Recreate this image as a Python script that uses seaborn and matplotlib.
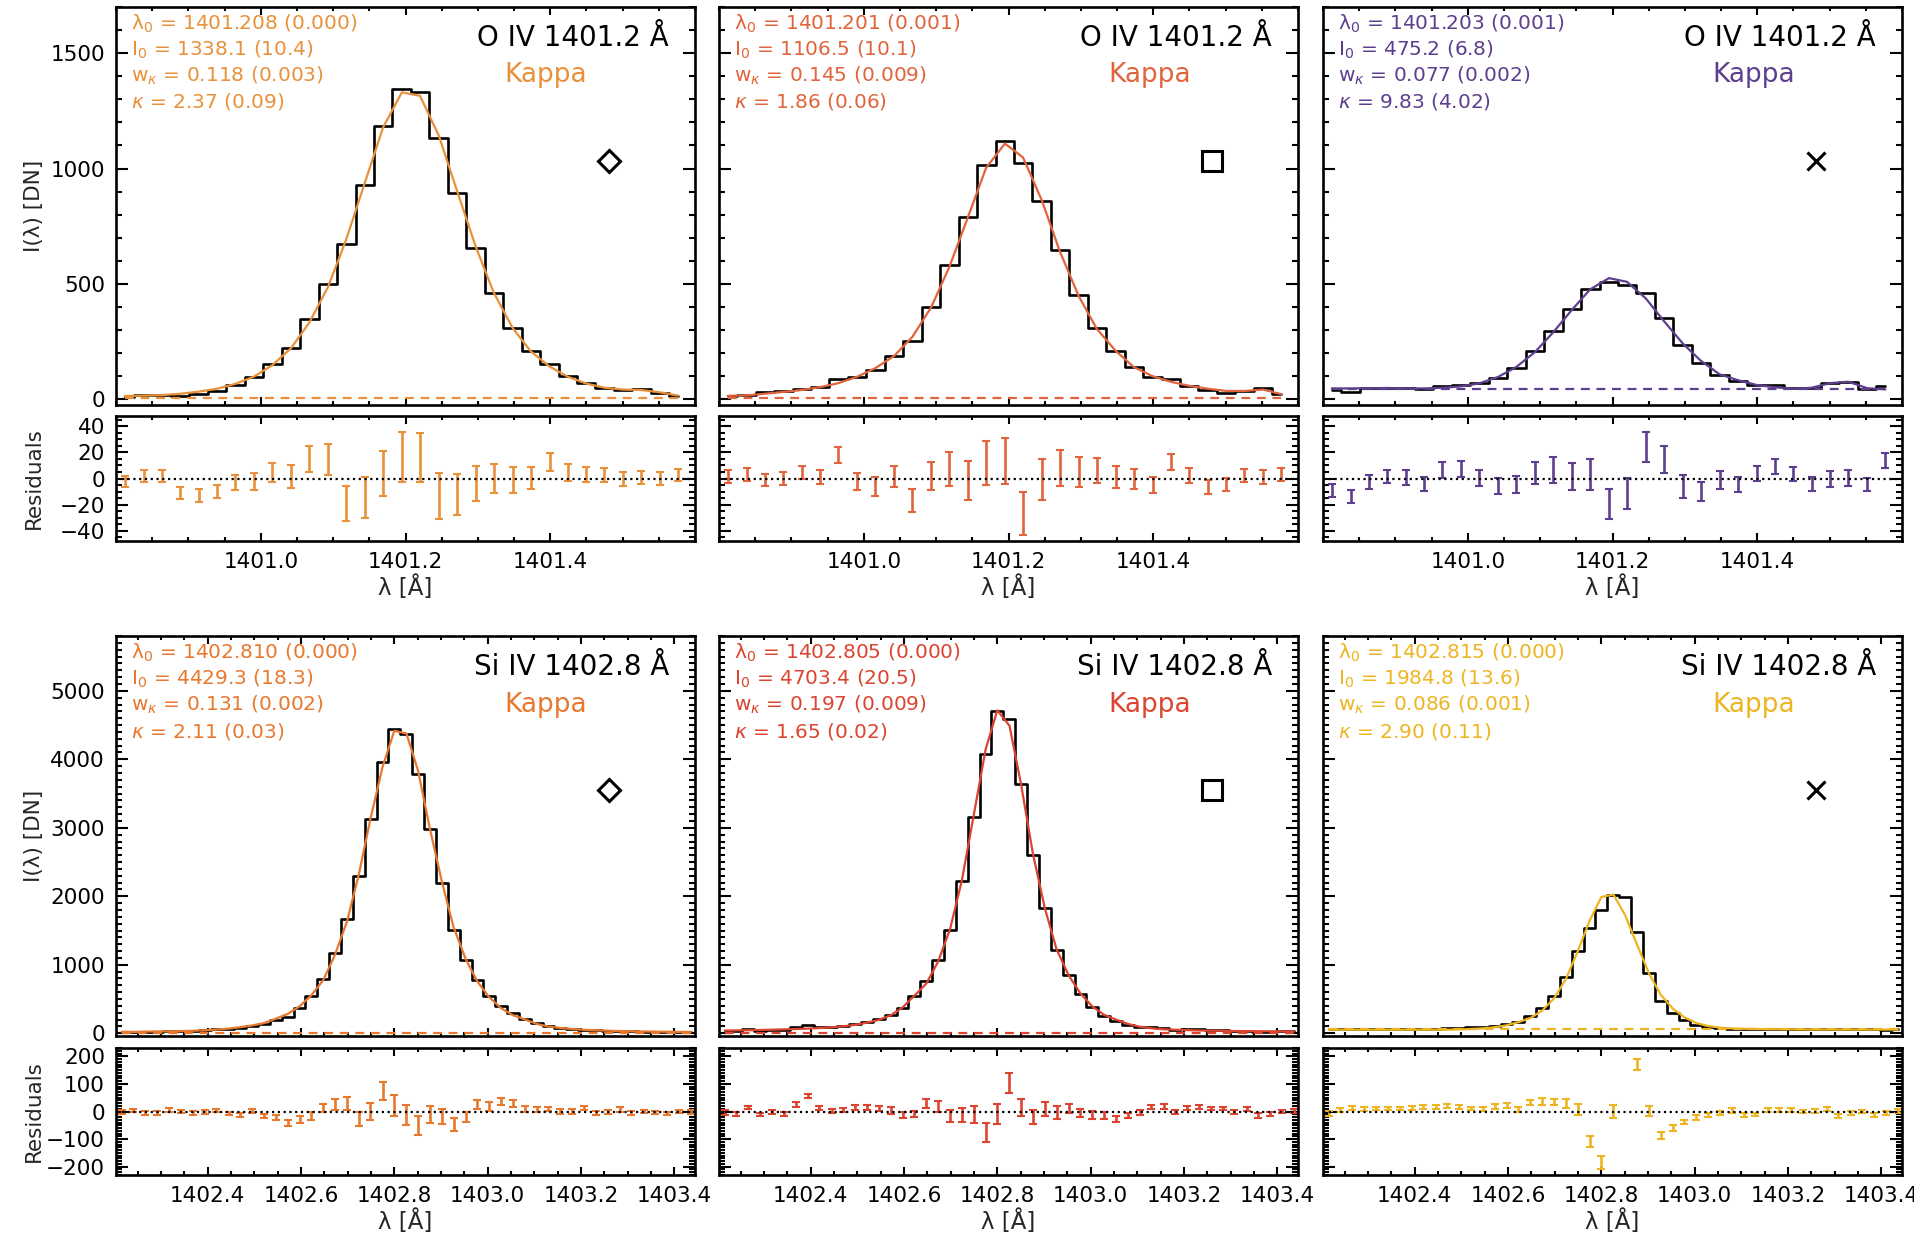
import matplotlib
matplotlib.use("Agg")
import matplotlib.pyplot as plt
import seaborn as sns
from matplotlib.ticker import MultipleLocator, FixedLocator, FormatStrFormatter

sns.set_theme(style="ticks")
plt.rcParams["font.family"] = ["DejaVu Sans"]
plt.rcParams["mathtext.fontset"] = "dejavusans"

# ---------------- data ----------------
WL_OIV = [1400.812, 1400.838, 1400.863, 1400.889, 1400.914, 1400.940, 1400.965, 1400.991,
          1401.016, 1401.042, 1401.067, 1401.093, 1401.118, 1401.144, 1401.169, 1401.195,
          1401.220, 1401.246, 1401.271, 1401.297, 1401.322, 1401.348, 1401.373, 1401.399,
          1401.424, 1401.450, 1401.475, 1401.501, 1401.526, 1401.552, 1401.577]
WL_SIIV = [1402.216, 1402.241, 1402.267, 1402.292, 1402.318, 1402.343, 1402.368, 1402.394,
           1402.419, 1402.445, 1402.470, 1402.495, 1402.521, 1402.546, 1402.572, 1402.597,
           1402.622, 1402.648, 1402.673, 1402.699, 1402.724, 1402.749, 1402.775, 1402.800,
           1402.826, 1402.851, 1402.876, 1402.902, 1402.927, 1402.953, 1402.978, 1403.003,
           1403.029, 1403.054, 1403.080, 1403.105, 1403.130, 1403.156, 1403.181, 1403.207,
           1403.232, 1403.257, 1403.283, 1403.308, 1403.334, 1403.359, 1403.384, 1403.410,
           1403.435]
XTICKS_OIV = [1401.0, 1401.2, 1401.4]
XTICKS_SIIV = [1402.4, 1402.6, 1402.8, 1403.0, 1403.2, 1403.4]

# O IV, diamond
OIV_D_I = [12, 18, 18, 14, 22, 36, 64, 96, 154, 224, 346, 500, 674, 927, 1183, 1345, 1330, 1131,
           893, 657, 461, 307, 211, 154, 103, 69, 50, 40, 46, 29, 14]
OIV_D_FIT = [14, 16, 18, 24, 33, 46, 67, 99, 148, 222, 332, 487, 692, 940, 1178, 1330, 1315, 1143,
             905, 662, 462, 309, 208, 142, 98, 68, 50, 42, 40, 30, 16]
OIV_D_RES = [-2, 2, 2, -11, -13, -10, -3, -2.3, 4.4, 1.5, 15.3, 14.8, -19, -14.5, 4, 16.4, 16,
             -13.5, -12, -4, 0, -1.3, 0.3, 12.7, 4.7, 2.8, 2.6, -0.5, 0.8, 0, 2.8]
OIV_D_ERR = [4.3, 4.8, 4.8, 4.5, 4.7, 5.3, 5.8, 6.5, 7.4, 9, 10, 12, 13.4, 15.8, 17.5, 19, 18.7,
             17.4, 15.8, 13.4, 11, 10, 8.4, 7, 6.5, 5.8, 5.2, 5.2, 5.2, 4.8, 4.5]
# O IV, square
OIV_S_I = [16, 19, 33, 36, 44, 54, 90, 97, 126, 187, 254, 401, 580, 790, 1016, 1121, 1023, 861,
           647, 451, 311, 211, 140, 97, 90, 59, 40, 29, 36, 47, 21]
OIV_S_FIT = [15, 17, 24, 32, 40, 53, 70, 98, 135, 188, 270, 398, 572, 790, 1003, 1108, 1048, 862,
             640, 447, 305, 210, 140, 100, 76, 58, 46, 36, 36, 42, 22]
OIV_S_RES = [1.4, 3.1, -1.3, 0, 4.7, 1, 18, -2.6, -6, 1.6, -17, 2, 7.3, -1.3, 11.7, 13.5, -26.5,
             -0.8, 8, 4.9, 6, 1.3, -0.5, -5, 12.7, 2.3, -6.5, -4.4, 2.3, 1, 2.9]
OIV_S_ERR = [4.8, 4.7, 4.5, 5.2, 4.9, 5.2, 6.4, 6.5, 7.1, 8.2, 9.1, 11, 12.7, 15, 16.8, 17.5, 16.5,
             15.6, 13.9, 11.7, 9.7, 8.4, 7.5, 6.2, 6.5, 5.6, 5.3, 4.9, 5.2, 5.2, 4.8]
# O IV, cross
OIV_X_I = [40, 33, 47, 50, 47, 43, 57, 64, 71, 93, 136, 210, 296, 390, 479, 507, 497, 461, 354,
           236, 157, 107, 79, 64, 61, 47, 47, 71, 76, 43, 57]
OIV_X_FIT = [47, 47, 48, 49, 47, 47, 50, 56, 69, 97, 140, 205, 290, 388, 476, 525, 509, 437, 339,
             242, 167, 108, 83, 62, 52, 45, 50, 70, 76, 48, 43]
OIV_X_RES = [-9.2, -14, -2.4, 1.6, 0.8, -4.5, 6.6, 7.4, 0.5, -5.8, -4.7, 4.2, 6.3, 1.6, 2.9, -19.5,
             -11.6, 24.2, 14.5, -5.8, -10, -1.3, -4.7, 3.7, 9.5, 3.2, -4.2, -0.3, 0.3, -4.5, 14]
OIV_X_ERR = [5, 5, 5.3, 5.3, 5.7, 5.3, 6.2, 6.2, 5.9, 6.2, 6.8, 8.6, 9.9, 10.5, 11.8, 11.8, 11.8,
             11.6, 10.3, 8.8, 7.6, 7, 5.9, 5.9, 5.8, 5.5, 5.3, 5.9, 5.9, 4.9, 5.7]

# Si IV, diamond
SIIV_D_I = [20, 22, 25, 25, 30, 30, 35, 45, 55, 65, 80, 100, 132, 195, 244, 366, 537, 790, 1171,
            1668, 2293, 3132, 3966, 4439, 4366, 3780, 2985, 2195, 1502, 1063, 780, 546, 400, 293,
            210, 146, 105, 80, 62, 50, 42, 36, 32, 28, 25, 22, 20, 20, 18]
SIIV_D_FIT = [22, 20, 24, 27, 28, 31, 36, 44, 54, 68, 88, 113, 148, 212, 283, 393, 551, 778, 1147,
              1638, 2319, 3132, 3892, 4417, 4378, 3831, 2995, 2212, 1549, 1083, 755, 528, 365,
              264, 201, 137, 97, 78, 62, 50, 44, 38, 32, 30, 26, 24, 22, 20, 19]
SIIV_D_RES = [-2, 3, -5, -5, 5, 0, -5, -2, 3, -7, -12, 3, -17, -20, -40, -29, -15, 12, 24, 30,
              -26, 0, 74, 22, -12, -51, -10, -17, -47, -20, 25, 18, 35, 29, 9, 9, 10, 0, 0, 12,
              -5, -1, 8, -5, 0, -3, -7, 0, -2]
SIIV_D_ERR = [7, 6, 6.5, 6, 6, 6, 6.5, 6, 6.5, 7, 7.5, 7, 8, 9, 11, 12, 14, 15, 20, 23, 26, 31,
              34, 37, 36, 34, 31, 27, 22, 19, 17, 15, 13, 11, 10, 9, 8, 7.5, 7.5, 8, 7, 7, 8, 6,
              6, 6, 6.5, 7, 8]
# Si IV, square
SIIV_S_I = [36, 34, 59, 37, 51, 49, 86, 125, 90, 90, 109, 138, 171, 205, 268, 366, 537, 756,
            1063, 1512, 2219, 3156, 4073, 4707, 4595, 3644, 2610, 1829, 1220, 854, 576, 380, 254,
            174, 122, 91, 89, 77, 50, 59, 58, 50, 48, 30, 40, 15, 20, 29, 29]
SIIV_S_FIT = [40, 42, 45, 48, 52, 57, 62, 68, 76, 88, 102, 122, 155, 195, 264, 377, 546, 726,
              1044, 1527, 2231, 3167, 4148, 4716, 4491, 3630, 2630, 1820, 1224, 843, 582, 394,
              268, 200, 136, 95, 72, 58, 52, 46, 41, 39, 37, 33, 31, 30, 29, 28, 27]
SIIV_S_RES = [-4, -8, 14, -11, -1, -8, 24, 57, 14, 2, 7, 16, 16, 10, 4, -11, -9, 30, 19, -15,
              -12, -11, -75, -9, 104, 14, -20, 9, -4, 11, -6, -14, -14, -26, -14, -4, 17, 19, -2,
              13, 17, 11, 11, -3, 9, -15, -9, 1, 2]
SIIV_S_ERR = [8, 7.5, 5.4, 7, 6.5, 7.5, 9, 7.5, 7.5, 7, 7, 9, 9, 9.7, 12, 11, 12, 16, 19, 22, 26,
              31, 34, 36.5, 36, 32, 27, 24, 24, 18, 15, 14.5, 12, 11, 10, 8, 8, 8.6, 8, 6.5, 8,
              7, 7, 7, 6, 8, 6.5, 5.4, 6.5]
# Si IV, cross
SIIV_X_I = [55, 62, 65, 62, 64, 64, 65, 66, 67, 68, 70, 74, 85, 98, 107, 137, 171, 254, 366, 546,
            820, 1195, 1537, 1805, 2024, 1990, 1473, 878, 478, 302, 195, 122, 88, 73, 68, 65, 64,
            62, 62, 60, 60, 58, 58, 57, 56, 57, 55, 54, 55]
SIIV_X_FIT = [52, 52, 52, 52, 52, 52, 52, 52, 52, 52, 52, 56, 62, 72, 88, 116, 162, 222, 329, 511,
              791, 1188, 1645, 1989, 2025, 1725, 1303, 876, 564, 361, 233, 150, 105, 82, 70, 66,
              63, 60, 58, 57, 56, 55, 55, 54, 54, 54, 54, 54, 54]
SIIV_X_RES = [-8, 7, 14, 9, 12, 12, 12, 14, 16, 17, 21, 16, 11, 9, 19, 21, 9, 32, 37, 35, 29, 7,
              -108, -184, -1, 265, 170, 2, -86, -59, -38, -22, -13, -5, 3, -14, -12, 7, 7, 7, 1,
              3, 9, -17, -6, -1, -14, -6, 3]
SIIV_X_ERR = [9, 7, 7, 6, 6, 6, 6, 7, 7, 8, 8, 8, 7, 8, 9, 9, 9, 10, 12, 12, 17, 20, 21, 24, 23,
              25, 19, 19, 13, 11.6, 9, 9, 8, 8, 8, 7, 6, 7, 7, 7, 6, 7, 7, 7, 7, 6, 7, 7, 7]

BASELINES = [5, 5, 43, 10, 10, 55]
LINE_TITLES = ["O IV 1401.2 Å", "Si IV 1402.8 Å"]
PARAMS = [
    ["λ$_0$ = 1401.208 (0.000)", "I$_0$ = 1338.1 (10.4)", r"w$_\kappa$ = 0.118 (0.003)", r"$\kappa$ = 2.37 (0.09)"],
    ["λ$_0$ = 1401.201 (0.001)", "I$_0$ = 1106.5 (10.1)", r"w$_\kappa$ = 0.145 (0.009)", r"$\kappa$ = 1.86 (0.06)"],
    ["λ$_0$ = 1401.203 (0.001)", "I$_0$ = 475.2 (6.8)", r"w$_\kappa$ = 0.077 (0.002)", r"$\kappa$ = 9.83 (4.02)"],
    ["λ$_0$ = 1402.810 (0.000)", "I$_0$ = 4429.3 (18.3)", r"w$_\kappa$ = 0.131 (0.002)", r"$\kappa$ = 2.11 (0.03)"],
    ["λ$_0$ = 1402.805 (0.000)", "I$_0$ = 4703.4 (20.5)", r"w$_\kappa$ = 0.197 (0.009)", r"$\kappa$ = 1.65 (0.02)"],
    ["λ$_0$ = 1402.815 (0.000)", "I$_0$ = 1984.8 (13.6)", r"w$_\kappa$ = 0.086 (0.001)", r"$\kappa$ = 2.90 (0.11)"],
]
COLORS = ["#E8913A", "#E0643C", "#5E3F8E", "#E8782E", "#DC4430", "#EDB521"]
MARKERS = ["D", "s", "x"]

# ---------------- layout ----------------
fig = plt.figure(figsize=(19.15, 12.44), dpi=100)
COL_L = [0.0606, 0.3755, 0.6909]
COL_W = 0.3023
ROWS = [dict(sb=0.6744, sh=0.3200, rb=0.5651, rh=0.1005, xlim=(1400.80, 1401.60),
             ylim=(-25, 1700), ymaj=500, ymin=100, rlim=(-48, 48), rmaj=20, rmin=5,
             wl=WL_OIV, xt=XTICKS_OIV),
        dict(sb=0.1672, sh=0.3215, rb=0.0555, rh=0.1020, xlim=(1402.204, 1403.444),
             ylim=(-40, 5800), ymaj=1000, ymin=100, rlim=(-230, 230), rmaj=100, rmin=10,
             wl=WL_SIIV, xt=XTICKS_SIIV)]
SERIES = [
    (OIV_D_I, OIV_D_FIT, OIV_D_RES, OIV_D_ERR),
    (OIV_S_I, OIV_S_FIT, OIV_S_RES, OIV_S_ERR),
    (OIV_X_I, OIV_X_FIT, OIV_X_RES, OIV_X_ERR),
    (SIIV_D_I, SIIV_D_FIT, SIIV_D_RES, SIIV_D_ERR),
    (SIIV_S_I, SIIV_S_FIT, SIIV_S_RES, SIIV_S_ERR),
    (SIIV_X_I, SIIV_X_FIT, SIIV_X_RES, SIIV_X_ERR),
]
FS_TICK = 15.5
FS_PAR = 14.5


def style_axes(ax, xlen):
    ax.tick_params(which="both", direction="in", top=True, right=True,
                   width=1.5, colors="black", labelsize=FS_TICK, pad=8)
    ax.tick_params(axis="y", which="major", length=8.5)
    ax.tick_params(axis="y", which="minor", length=4)
    ax.tick_params(axis="x", which="major", length=xlen)
    ax.tick_params(axis="x", which="minor", length=xlen / 2)
    for s in ax.spines.values():
        s.set_linewidth(1.9)
        s.set_color("black")


for r, row in enumerate(ROWS):
    wl = row["wl"]
    for c in range(3):
        k = r * 3 + c
        col = COLORS[k]
        inten, fit, res, err = SERIES[k]
        ax_r = fig.add_axes([COL_L[c], row["rb"], COL_W, row["rh"]])
        ax_s = fig.add_axes([COL_L[c], row["sb"], COL_W, row["sh"]])

        # spectrum
        sns.lineplot(x=wl, y=inten, ax=ax_s, color="black", lw=1.9,
                     drawstyle="steps-mid", estimator=None, sort=False)
        sns.lineplot(x=wl, y=fit, ax=ax_s, color=col, lw=1.6, estimator=None, sort=False)
        ax_s.hlines(BASELINES[k], wl[0], wl[-1], colors=col, linestyles=(0, (4, 3)), lw=1.6)
        ax_s.set_xlim(*row["xlim"])
        ax_s.set_ylim(*row["ylim"])
        ax_s.xaxis.set_major_locator(FixedLocator(row["xt"]))
        ax_s.xaxis.set_minor_locator(MultipleLocator(0.05))
        ax_s.yaxis.set_major_locator(MultipleLocator(row["ymaj"]))
        ax_s.yaxis.set_minor_locator(MultipleLocator(row["ymin"]))
        ax_s.yaxis.set_major_formatter(FormatStrFormatter("%d"))
        style_axes(ax_s, 6)
        ax_s.set_xticklabels([])
        ax_s.set_xlabel("")

        for j, line in enumerate(PARAMS[k]):
            ax_s.text(0.025, 0.958 - 0.0655 * j, line, color=col, fontsize=FS_PAR,
                      transform=ax_s.transAxes, ha="left", va="center")
        ax_s.text(0.955, 0.922, LINE_TITLES[r], color="black", fontsize=20,
                  transform=ax_s.transAxes, ha="right", va="center")
        ax_s.text(0.743, 0.828, "Kappa", color=col, fontsize=19,
                  transform=ax_s.transAxes, ha="center", va="center")
        mk = MARKERS[c]
        ax_s.plot([0.852], [0.614], marker=mk, transform=ax_s.transAxes,
                  ms={"D": 11, "s": 14, "x": 13}[mk], mfc="none", mec="black",
                  mew=2.2, ls="none")

        # residuals
        ax_r.errorbar(wl, res, yerr=err, fmt="none", ecolor=col, elinewidth=1.9,
                      capsize=2.6, capthick=1.5)
        ax_r.axhline(0, color="black", ls=(0, (1, 1.6)), lw=1.6)
        ax_r.set_xlim(*row["xlim"])
        ax_r.set_ylim(*row["rlim"])
        ax_r.xaxis.set_major_locator(FixedLocator(row["xt"]))
        ax_r.xaxis.set_minor_locator(MultipleLocator(0.05))
        ax_r.xaxis.set_major_formatter(FormatStrFormatter("%.1f"))
        ax_r.yaxis.set_major_locator(MultipleLocator(row["rmaj"]))
        ax_r.yaxis.set_minor_locator(MultipleLocator(row["rmin"]))
        style_axes(ax_r, 6)
        ax_r.set_xlabel("λ [Å]", fontsize=16.5, labelpad=2)

        if c == 0:
            ax_s.set_ylabel("I(λ) [DN]", fontsize=FS_TICK)
            ax_r.set_ylabel("Residuals", fontsize=FS_TICK)
            ax_s.yaxis.set_label_coords(-0.125, 0.5)
            ax_r.yaxis.set_label_coords(-0.125, 0.5)
        else:
            ax_s.set_yticklabels([])
            ax_r.set_yticklabels([])
            ax_s.set_ylabel("")
            ax_r.set_ylabel("")

fig.savefig("out.png", dpi=100, facecolor="white")
